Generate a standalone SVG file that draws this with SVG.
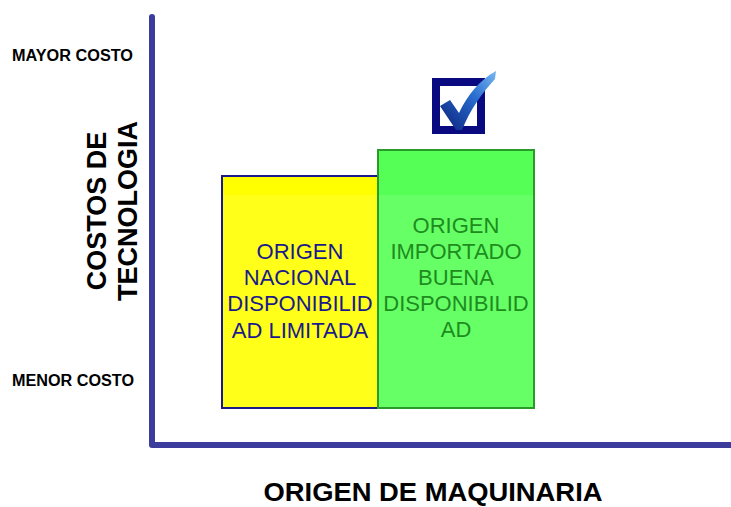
<svg xmlns="http://www.w3.org/2000/svg" width="731" height="507" viewBox="0 0 731 507">
<defs>
<style>
.lbl{font-family:"Liberation Sans",Arial,sans-serif;font-weight:bold;fill:#000}
.box{font-family:"Liberation Sans",Arial,sans-serif;font-size:22px;text-anchor:middle}
</style>
<linearGradient id="chk" x1="0" y1="1" x2="1" y2="0">
<stop offset="0" stop-color="#0a1f7a"/>
<stop offset="0.6" stop-color="#2a6fd0"/>
<stop offset="1" stop-color="#7ab8f0"/>
</linearGradient>
</defs>
<rect width="731" height="507" fill="#fff"/>
<g id="axes">
<path d="M152,17 L152,445 L731,445" fill="none" stroke="#3c3c9c" stroke-width="6" stroke-linecap="round" stroke-linejoin="round"/>
</g>
<g id="labels">
<text class="lbl" x="12" y="61" font-size="16" textLength="121" lengthAdjust="spacingAndGlyphs">MAYOR COSTO</text>
<text class="lbl" x="12" y="386" font-size="16" textLength="122" lengthAdjust="spacingAndGlyphs">MENOR COSTO</text>
<text class="lbl" font-size="27" text-anchor="middle" transform="translate(106,211) rotate(-90)">COSTOS DE</text>
<text class="lbl" font-size="27" text-anchor="middle" transform="translate(137,211) rotate(-90)">TECNOLOGIA</text>
<text class="lbl" x="433" y="501" font-size="25" text-anchor="middle" textLength="339" lengthAdjust="spacingAndGlyphs">ORIGEN DE MAQUINARIA</text>
</g>
<g id="nacional">
<rect x="222" y="176" width="156" height="232" fill="#ffff1a" stroke="#1a1a8c" stroke-width="2"/>
<rect x="223" y="177" width="154" height="18" fill="#ffff00"/>
<text class="box" fill="#1a1a8c"><tspan x="300" y="259">ORIGEN</tspan><tspan x="300" y="285">NACIONAL</tspan><tspan x="300" y="311">DISPONIBILID</tspan><tspan x="300" y="338">AD LIMITADA</tspan></text>
</g>
<g id="importado">
<rect x="378" y="150" width="156" height="258" fill="#66ff66" stroke="#2a9a2a" stroke-width="2"/>
<rect x="379" y="151" width="154" height="44" fill="#55ff55"/>
<text class="box" fill="#1e8c1e"><tspan x="456" y="233">ORIGEN</tspan><tspan x="456" y="259">IMPORTADO</tspan><tspan x="456" y="285">BUENA</tspan><tspan x="456" y="311">DISPONIBILID</tspan><tspan x="456" y="337">AD</tspan></text>
</g>
<g id="checkbox">
<rect x="436" y="82" width="45" height="48" fill="#fff" stroke="#0a0a80" stroke-width="8"/>
<path d="M440,106 L450,100 L459,113 C468,94 480,80 496,71 L495,79 C482,93 470,110 462,130 L456,130 Z" fill="url(#chk)"/>
</g>
</svg>
